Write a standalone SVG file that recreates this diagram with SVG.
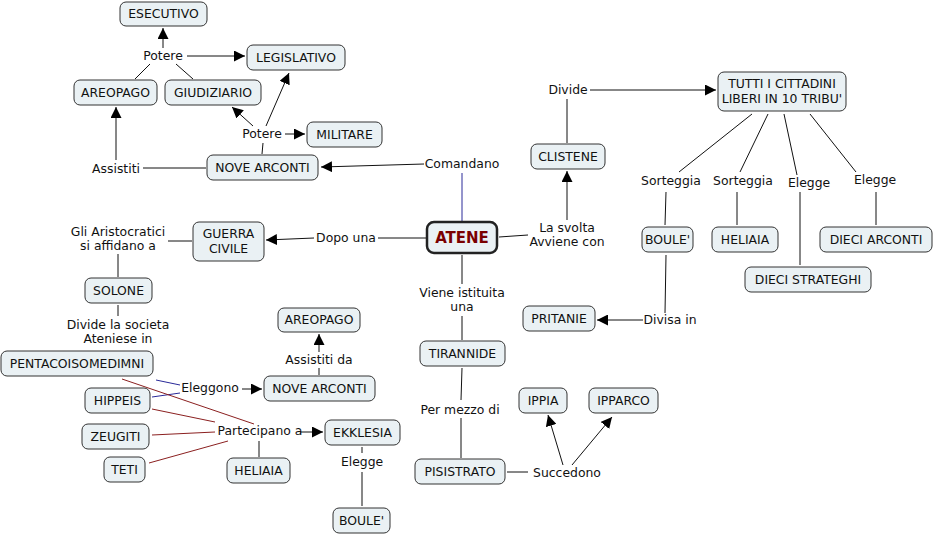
<svg xmlns="http://www.w3.org/2000/svg" width="935" height="534" viewBox="0 0 935 534">
<style>
.n rect{fill:#eaf1f4;stroke:#333;stroke-width:1;}
text{font-family:"DejaVu Sans",Verdana,sans-serif;font-size:12.4px;fill:#111;text-anchor:middle;}
.c line,.c polyline{stroke:#111;stroke-width:1;fill:none;}
.c .a{marker-end:url(#ah);}
.c .b{stroke:#2a2a99;}
.c .r{stroke:#8b2020;}
#atene rect{stroke-width:2.5;stroke:#222;}
#atene text{font-weight:bold;font-size:15px;fill:#7a0000;}
</style>
<defs>
<marker id="ah" viewBox="0 0 10 10" refX="10" refY="5" markerWidth="11" markerHeight="11" orient="auto" markerUnits="userSpaceOnUse"><path d="M0,0 L10,5 L0,10 z" fill="#000"/></marker>
</defs>
<rect width="935" height="534" fill="#fff"/>
<g class="c" id="connectors">
<line class="a" x1="163" y1="48" x2="163" y2="28"/>
<line class="a" x1="187" y1="56" x2="245" y2="56"/>
<line x1="135" y1="79" x2="150" y2="64"/>
<line x1="193" y1="79" x2="176" y2="64"/>
<line x1="262" y1="154" x2="263" y2="143"/>
<line class="a" x1="253" y1="126" x2="232" y2="107"/>
<line class="a" x1="266" y1="126" x2="289" y2="73"/>
<line class="a" x1="285" y1="134" x2="305" y2="134"/>
<line x1="206" y1="168" x2="143" y2="168"/>
<line class="a" x1="116" y1="160" x2="116" y2="107"/>
<line class="a" x1="424" y1="164" x2="321" y2="167"/>
<line class="b" x1="462" y1="221" x2="462" y2="173"/>
<line x1="499" y1="237" x2="528" y2="235"/>
<line class="a" x1="567" y1="220" x2="567" y2="171"/>
<line x1="567" y1="143" x2="567" y2="99"/>
<line class="a" x1="590" y1="90" x2="716" y2="90"/>
<line x1="752" y1="114" x2="679" y2="172"/>
<line x1="666" y1="192" x2="665" y2="225"/>
<line x1="768" y1="114" x2="740" y2="172"/>
<line x1="737" y1="192" x2="737" y2="225"/>
<line x1="784" y1="114" x2="797" y2="175"/>
<line x1="800" y1="192" x2="800" y2="265"/>
<line x1="810" y1="114" x2="856" y2="172"/>
<line x1="876" y1="192" x2="876" y2="225"/>
<line x1="666" y1="255" x2="665" y2="313"/>
<line class="a" x1="643" y1="320" x2="597" y2="320"/>
<line x1="426" y1="238" x2="378" y2="238"/>
<line class="a" x1="314" y1="238" x2="266" y2="240"/>
<line x1="192" y1="241" x2="168" y2="241"/>
<line x1="118" y1="254" x2="118" y2="277"/>
<line x1="118" y1="305" x2="118" y2="316"/>
<line x1="462" y1="255" x2="462" y2="284"/>
<line x1="462" y1="316" x2="462" y2="340"/>
<line x1="462" y1="368" x2="461" y2="400"/>
<line x1="461" y1="418" x2="461" y2="458"/>
<line x1="507" y1="472" x2="528" y2="472"/>
<line class="a" x1="563" y1="465" x2="548" y2="415"/>
<line class="a" x1="572" y1="465" x2="612" y2="417"/>
<line x1="319" y1="375" x2="319" y2="368"/>
<line class="a" x1="319" y1="352" x2="319" y2="334"/>
<line class="a" x1="242" y1="389" x2="262" y2="389"/>
<line class="b" x1="156" y1="380" x2="180" y2="385"/>
<line class="b" x1="152" y1="397" x2="180" y2="393"/>
<line class="r" x1="122" y1="379" x2="254" y2="424"/>
<line class="r" x1="152" y1="409" x2="215" y2="422"/>
<line class="r" x1="152" y1="435" x2="215" y2="432"/>
<line class="r" x1="149" y1="463" x2="228" y2="441"/>
<line class="a" x1="300" y1="432" x2="323" y2="432"/>
<line x1="259" y1="441" x2="259" y2="457"/>
<line x1="362" y1="447" x2="362" y2="453"/>
<line x1="362" y1="472" x2="362" y2="506"/>
</g>
<g id="labels">
<text x="163" y="60">Potere</text>
<text x="262" y="138">Potere</text>
<text x="116" y="173">Assistiti</text>
<text x="462" y="168">Comandano</text>
<text x="568" y="94">Divide</text>
<text x="671" y="185">Sorteggia</text>
<text x="743" y="185">Sorteggia</text>
<text x="809" y="187">Elegge</text>
<text x="875" y="184">Elegge</text>
<text x="567" y="232">La svolta</text>
<text x="567" y="246">Avviene con</text>
<text x="346" y="242">Dopo una</text>
<text x="118" y="236">Gli Aristocratici</text>
<text x="118" y="250">si affidano a</text>
<text x="118" y="329">Divide la societa</text>
<text x="118" y="343">Ateniese in</text>
<text x="462" y="297">Viene istituita</text>
<text x="462" y="311">una</text>
<text x="670" y="324">Divisa in</text>
<text x="319" y="364">Assistiti da</text>
<text x="210" y="392">Eleggono</text>
<text x="260" y="435">Partecipano a</text>
<text x="362" y="466">Elegge</text>
<text x="460" y="414">Per mezzo di</text>
<text x="567" y="477">Succedono</text>
</g>
<g class="n" id="esecutivo"><rect x="120" y="2" width="87" height="24" rx="6"/><text x="163.5" y="18">ESECUTIVO</text></g>
<g class="n" id="legislativo"><rect x="247" y="45" width="98" height="25" rx="6"/><text x="296" y="61.5">LEGISLATIVO</text></g>
<g class="n" id="areopago1"><rect x="74" y="80" width="83" height="25" rx="6"/><text x="115.5" y="96.5">AREOPAGO</text></g>
<g class="n" id="giudiziario"><rect x="165" y="80" width="96" height="25" rx="6"/><text x="213" y="96.5">GIUDIZIARIO</text></g>
<g class="n" id="militare"><rect x="307" y="122" width="75" height="25" rx="6"/><text x="344.5" y="138.5">MILITARE</text></g>
<g class="n" id="novearconti1"><rect x="207" y="155" width="111" height="25" rx="6"/><text x="262.5" y="171.5">NOVE ARCONTI</text></g>
<g class="n" id="clistene"><rect x="531" y="144" width="74" height="25" rx="6"/><text x="568" y="160.5">CLISTENE</text></g>
<g class="n" id="tutti"><rect x="718" y="72" width="128" height="39" rx="6"/><text x="782" y="88">TUTTI I CITTADINI</text><text x="782" y="103">LIBERI IN 10 TRIBU'</text></g>
<g class="n" id="atene"><rect x="427" y="222" width="70" height="31" rx="7"/><text x="462" y="243">ATENE</text></g>
<g class="n" id="guerracivile"><rect x="193" y="222" width="71" height="39" rx="6"/><text x="228.5" y="238">GUERRA</text><text x="228.5" y="253">CIVILE</text></g>
<g class="n" id="solone"><rect x="85" y="278" width="67" height="25" rx="6"/><text x="118.5" y="294.5">SOLONE</text></g>
<g class="n" id="boule1"><rect x="642" y="227" width="51" height="25" rx="6"/><text x="667.5" y="243.5">BOULE'</text></g>
<g class="n" id="heliaia1"><rect x="712" y="227" width="66" height="25" rx="6"/><text x="745" y="243.5">HELIAIA</text></g>
<g class="n" id="dieciarconti"><rect x="820" y="227" width="112" height="25" rx="6"/><text x="876" y="243.5">DIECI ARCONTI</text></g>
<g class="n" id="diecistrateghi"><rect x="745" y="267" width="126" height="25" rx="6"/><text x="808" y="283.5">DIECI STRATEGHI</text></g>
<g class="n" id="pritanie"><rect x="523" y="306" width="72" height="25" rx="6"/><text x="559" y="322.5">PRITANIE</text></g>
<g class="n" id="areopago2"><rect x="278" y="308" width="82" height="24" rx="6"/><text x="319" y="324">AREOPAGO</text></g>
<g class="n" id="novearconti2"><rect x="264" y="376" width="111" height="25" rx="6"/><text x="319.5" y="392.5">NOVE ARCONTI</text></g>
<g class="n" id="tirannide"><rect x="420" y="341" width="85" height="25" rx="6"/><text x="462.5" y="357.5">TIRANNIDE</text></g>
<g class="n" id="pentacoisomedimni"><rect x="1" y="351" width="152" height="25" rx="6"/><text x="77" y="367.5">PENTACOISOMEDIMNI</text></g>
<g class="n" id="hippeis"><rect x="85" y="388" width="65" height="25" rx="6"/><text x="117.5" y="404.5">HIPPEIS</text></g>
<g class="n" id="zeugiti"><rect x="82" y="424" width="67" height="25" rx="6"/><text x="115.5" y="440.5">ZEUGITI</text></g>
<g class="n" id="teti"><rect x="104" y="457" width="41" height="25" rx="6"/><text x="124.5" y="473.5">TETI</text></g>
<g class="n" id="heliaia2"><rect x="227" y="458" width="63" height="25" rx="6"/><text x="258.5" y="474.5">HELIAIA</text></g>
<g class="n" id="ekklesia"><rect x="325" y="420" width="75" height="25" rx="6"/><text x="362.5" y="436.5">EKKLESIA</text></g>
<g class="n" id="boule2"><rect x="333" y="508" width="57" height="25" rx="6"/><text x="361.5" y="524.5">BOULE'</text></g>
<g class="n" id="ippia"><rect x="519" y="388" width="48" height="25" rx="6"/><text x="543" y="404.5">IPPIA</text></g>
<g class="n" id="ipparco"><rect x="589" y="388" width="69" height="25" rx="6"/><text x="623.5" y="404.5">IPPARCO</text></g>
<g class="n" id="pisistrato"><rect x="415" y="459" width="90" height="25" rx="6"/><text x="460" y="475.5">PISISTRATO</text></g>
</svg>
